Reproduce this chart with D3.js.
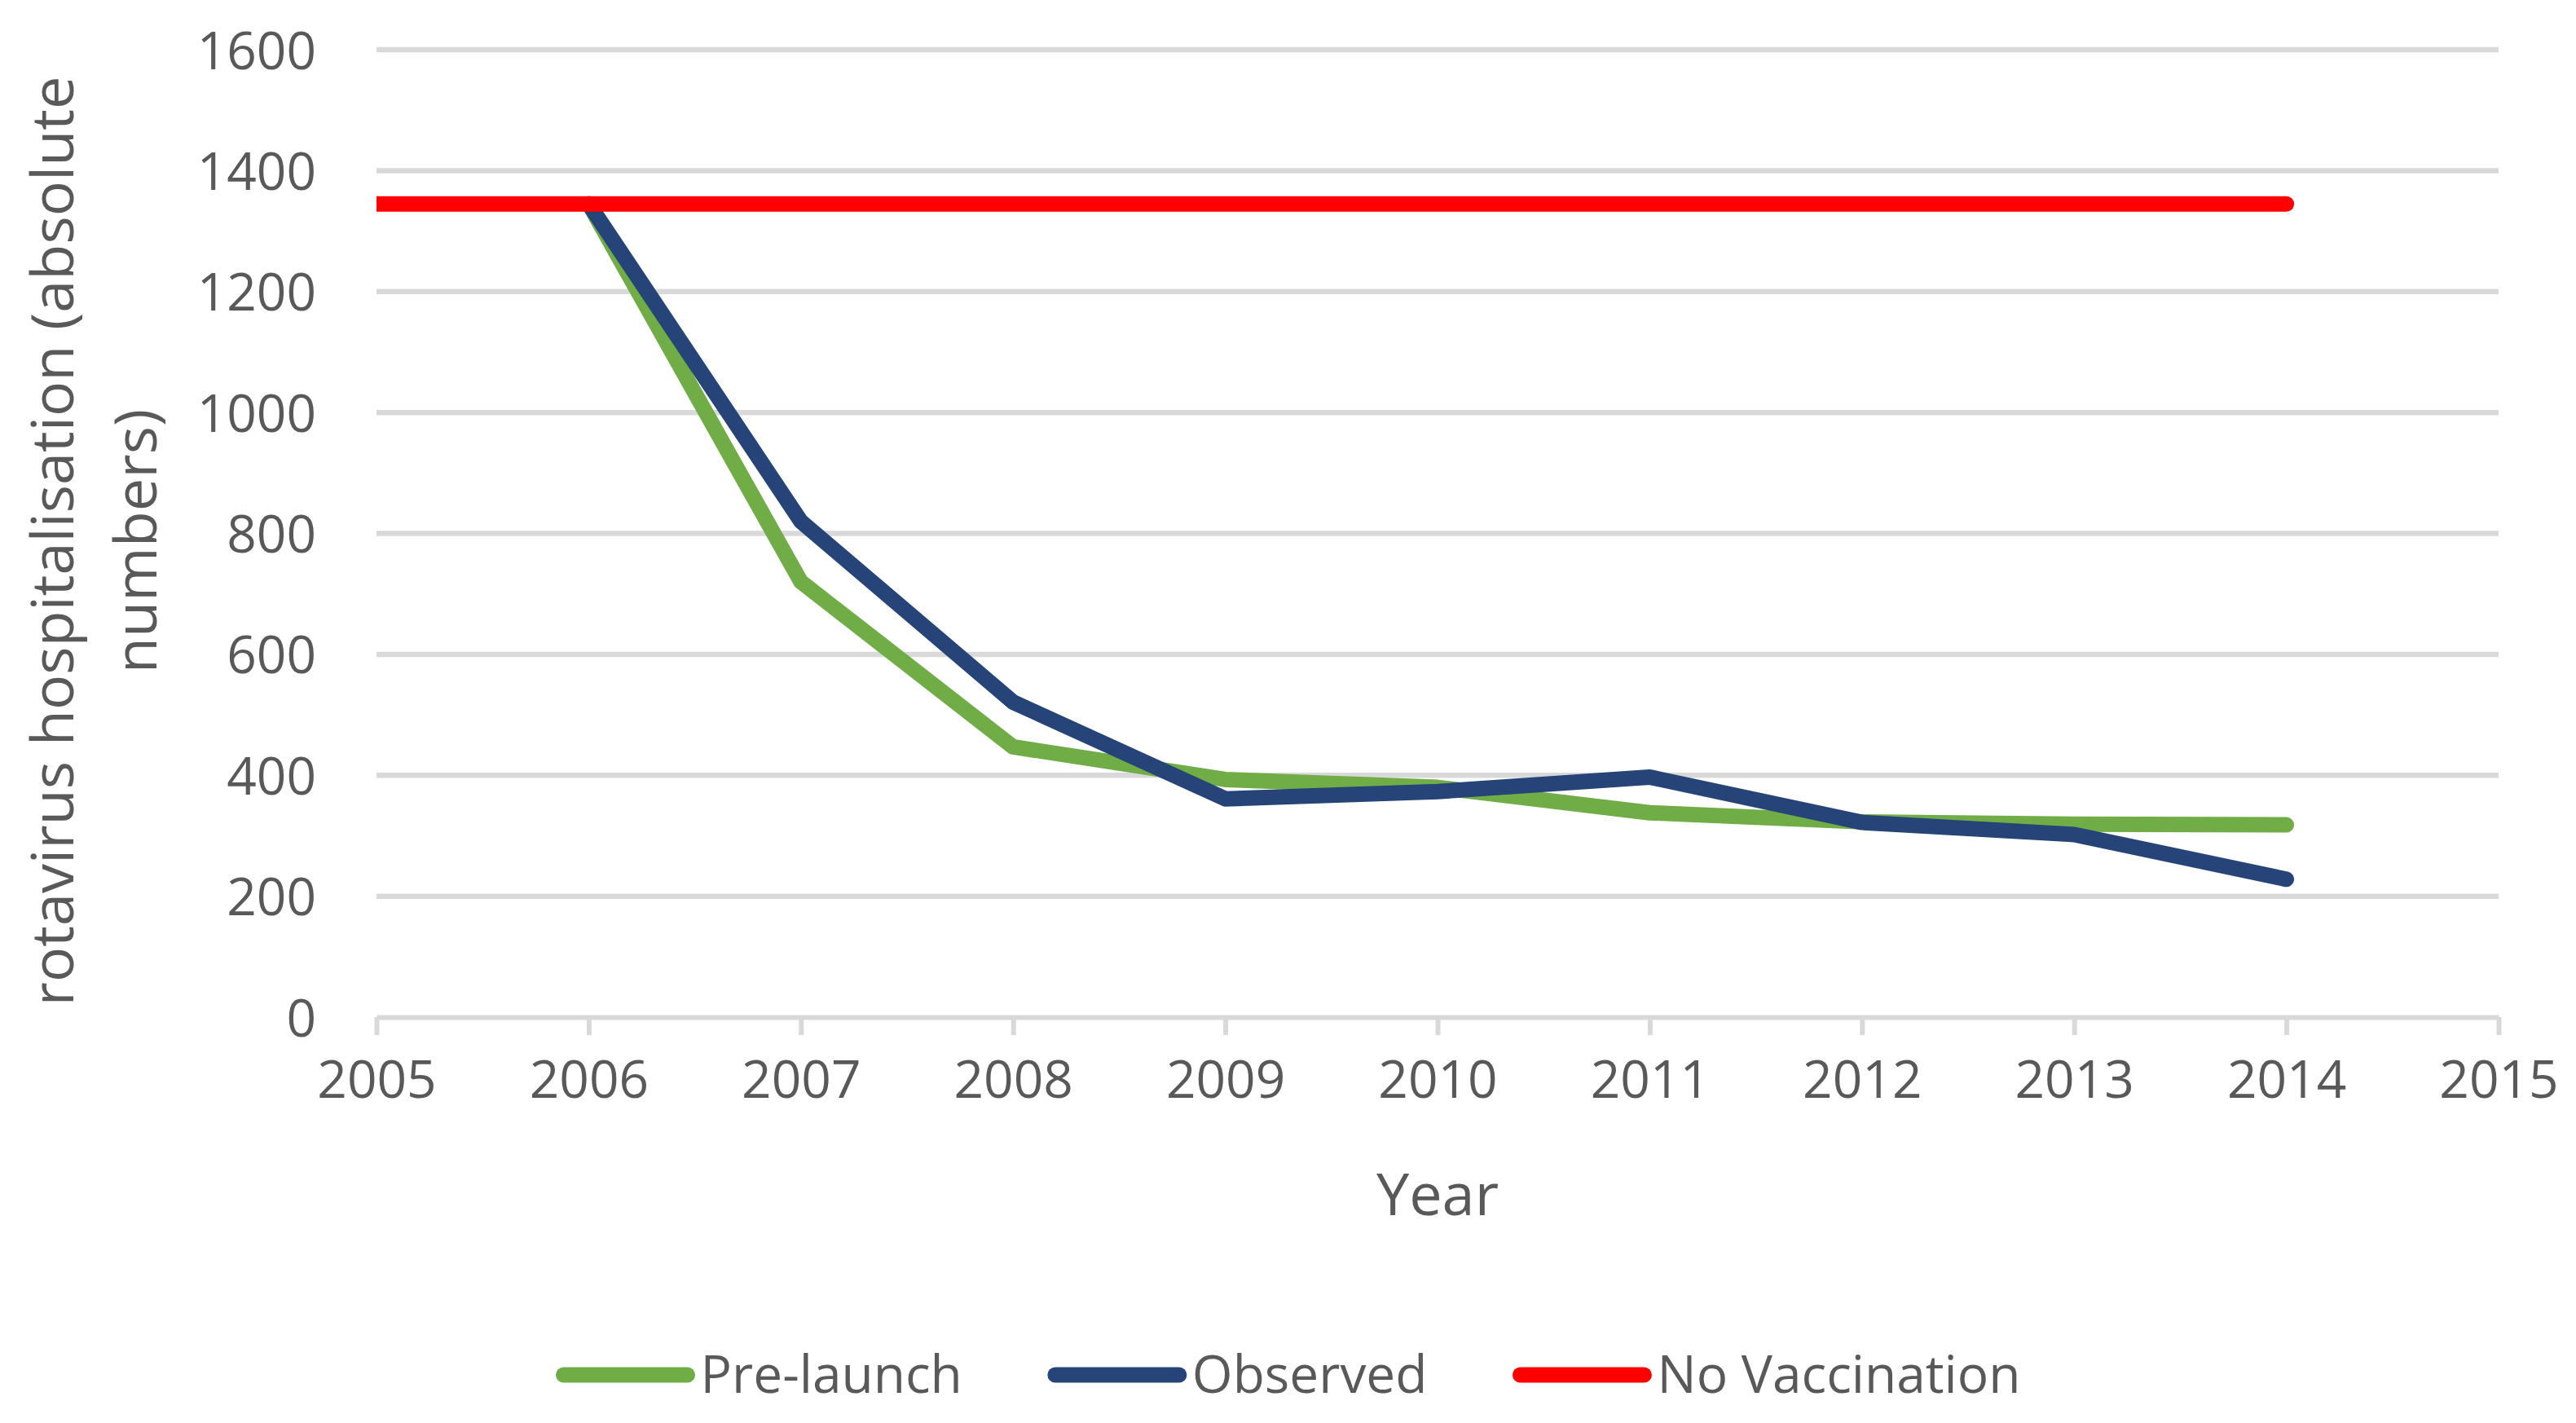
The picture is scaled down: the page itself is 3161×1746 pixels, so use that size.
<!DOCTYPE html>
<html>
<head>
<meta charset="utf-8">
<script src="https://cdn.jsdelivr.net/npm/d3@7"></script>
<style>
  body { margin: 0; background: #fff; }
  text { font-family: "Open Sans", sans-serif; fill: #595959; }
</style>
</head>
<body>
<div id="chart"></div>
<script>
// Data
const years = [2005, 2006, 2007, 2008, 2009, 2010, 2011, 2012, 2013, 2014];
const preLaunch = [null, 1345, 720, 447, 393, 380, 338, 323, 319, 318];
const observed = [null, 1345, 820, 521, 361, 373, 397, 322, 302, 228];
const noVaccination = [1345, 1345, 1345, 1345, 1345, 1345, 1345, 1345, 1345, 1345];
const xTicks = [2005, 2006, 2007, 2008, 2009, 2010, 2011, 2012, 2013, 2014, 2015];
const yTicks = [0, 200, 400, 600, 800, 1000, 1200, 1400, 1600];

const series = [
    { name: "Pre-launch", values: preLaunch, color: "#70ad47" },
    { name: "Observed", values: observed, color: "#264478" },
    { name: "No Vaccination", values: noVaccination, color: "#ff0000" }
];

// Dimensions
const W = 3161, H = 1746;
const margin = { top: 61, right: 95, bottom: 498, left: 462 };
const width = W - margin.left - margin.right;
const height = H - margin.top - margin.bottom;

const svg = d3.select("#chart")
    .append("svg")
    .attr("width", W)
    .attr("height", H);

const g = svg.append("g")
    .attr("transform", `translate(${margin.left},${margin.top})`);

// Scales
const xScale = d3.scaleLinear().domain([2005, 2015]).range([0, width]);
const yScale = d3.scaleLinear().domain([0, 1600]).range([height, 0]);

// Gridlines
g.append("g")
    .selectAll("line")
    .data(yTicks.filter(d => d > 0))
    .join("line")
    .attr("x1", 0)
    .attr("x2", width)
    .attr("y1", d => yScale(d))
    .attr("y2", d => yScale(d))
    .attr("stroke", "#d9d9d9")
    .attr("stroke-width", 6.5);

// Y axis (labels only)
const yAxis = d3.axisLeft(yScale).tickValues(yTicks).tickFormat(d3.format("d"))
    .tickSize(0).tickPadding(74);
g.append("g")
    .call(yAxis)
    .call(a => a.select(".domain").remove())
    .call(a => a.selectAll("text")
        .attr("font-size", 64)
        .attr("dy", "0.36em")
        .style("font-family", "Open Sans")
        .attr("fill", "#595959"));

// X axis
const xAxis = d3.axisBottom(xScale).tickValues(xTicks).tickFormat(d3.format("d"))
    .tickSize(22).tickSizeOuter(0).tickPadding(32);
g.append("g")
    .attr("transform", `translate(0,${height})`)
    .call(xAxis)
    .call(a => a.select(".domain").attr("stroke", "#d9d9d9").attr("stroke-width", 6))
    .call(a => a.selectAll(".tick line").attr("stroke", "#d9d9d9").attr("stroke-width", 6))
    .call(a => a.selectAll("text")
        .attr("font-size", 64)
        .style("font-family", "Open Sans")
        .attr("fill", "#595959"));

// Lines
g.append("clipPath").attr("id", "plot-clip")
    .append("rect")
    .attr("x", 0).attr("y", -40)
    .attr("width", width).attr("height", height + 40);

const line = d3.line()
    .defined(d => d.v !== null)
    .x(d => xScale(d.year))
    .y(d => yScale(d.v));

g.append("g")
    .attr("clip-path", "url(#plot-clip)")
    .selectAll("path")
    .data(series)
    .join("path")
    .attr("fill", "none")
    .attr("stroke", d => d.color)
    .attr("stroke-width", 19)
    .attr("stroke-linecap", "round")
    .attr("stroke-linejoin", "round")
    .attr("d", d => line(years.map((y, i) => ({ year: y, v: d.values[i] }))));

// Axis titles
svg.append("text")
    .attr("x", margin.left + width / 2)
    .attr("y", 1491)
    .attr("text-anchor", "middle")
    .attr("font-size", 72)
    .text("Year");

const yTitle = svg.append("text")
    .attr("transform", "translate(0,664) rotate(-90)")
    .attr("text-anchor", "middle")
    .attr("font-size", 72);
yTitle.append("tspan").attr("x", 0).attr("y", 90).text("rotavirus hospitalisation (absolute");
yTitle.append("tspan").attr("x", 0).attr("y", 192).text("numbers)");

// Legend
const legend = svg.append("g");
let lx = 0;
series.forEach(s => {
    const item = legend.append("g").attr("transform", `translate(${lx},0)`);
    item.append("line")
        .attr("x1", 10).attr("x2", 162)
        .attr("y1", 0).attr("y2", 0)
        .attr("stroke", s.color)
        .attr("stroke-width", 19)
        .attr("stroke-linecap", "round");
    const t = item.append("text")
        .attr("x", 178)
        .attr("y", 22)
        .attr("font-size", 64)
        .text(s.name);
    lx += 178 + t.node().getComputedTextLength() + 104;
});
const legendWidth = lx - 104;
legend.attr("transform", `translate(${W / 2 - legendWidth / 2},1687)`);
</script>
</body>
</html>
